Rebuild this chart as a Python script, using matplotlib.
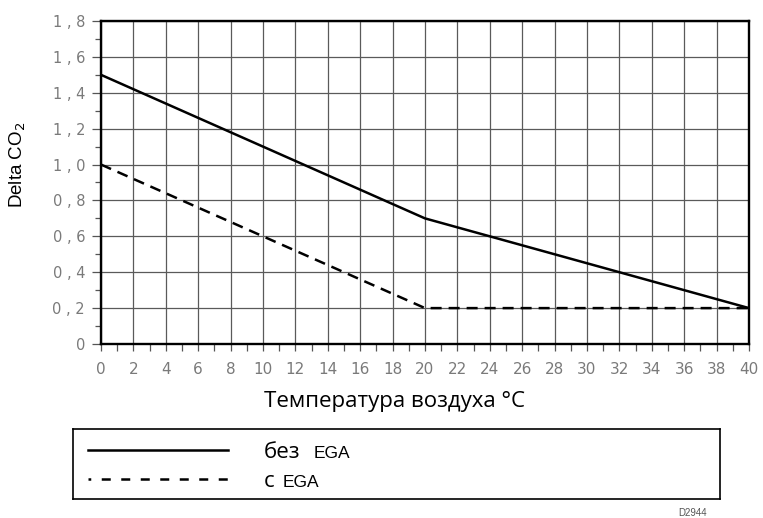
import matplotlib.pyplot as plt
from matplotlib.lines import Line2D
from matplotlib.ticker import MultipleLocator

# chart data
temp = [0, 20, 40]
without_ega = [1.5, 0.7, 0.2]
with_ega = [1.0, 0.2, 0.2]
x_ticks = list(range(0, 41, 2))
y_ticks = [0, 0.2, 0.4, 0.6, 0.8, 1.0, 1.2, 1.4, 1.6, 1.8]
y_labels = ["0", "0 , 2", "0 , 4", "0 , 6", "0 , 8", "1 , 0", "1 , 2", "1 , 4", "1 , 6", "1 , 8"]
legend_labels = ["без", "с"]

fig = plt.figure(figsize=(7.63, 5.18), dpi=100)
ax = fig.add_axes([101/763, 1-344/518, 648/763, 323/518])

ax.plot(temp, without_ega, color="black", lw=1.8, solid_capstyle="butt")
ax.plot(temp, with_ega, color="black", lw=1.8, linestyle=(0, (4.4, 2.8)))

ax.set_xlim(0, 40)
ax.set_ylim(0, 1.8)
ax.set_xticks(x_ticks)
ax.set_xticklabels([str(t) for t in x_ticks])
ax.set_yticks(y_ticks)
ax.set_yticklabels(y_labels)
ax.xaxis.set_minor_locator(MultipleLocator(1))
ax.yaxis.set_minor_locator(MultipleLocator(0.1))
ax.grid(True, which="major", color="#5a5a5a", lw=0.9)
ax.set_axisbelow(True)

for s in ax.spines.values():
    s.set_linewidth(1.7)
ax.tick_params(which="major", direction="out", length=6.5, width=0.9, color="#555555",
               labelcolor="#7a7a7a")
ax.tick_params(which="minor", direction="out", length=4.5, width=0.9, color="#555555")
ax.tick_params(axis="x", which="both", length=5, pad=8, labelsize=11)
ax.tick_params(axis="y", which="major", pad=5, labelsize=10.5)
for lab in ax.get_xticklabels() + ax.get_yticklabels():
    lab.set_family("DejaVu Sans")

fig.text(18/763, 1-165/518, "Delta CO$_2$", rotation=90, ha="center", va="center",
         fontsize=13.5, family="Liberation Sans")
fig.text(395/763, 1-401/518, "Температура воздуха °C", ha="center", va="center",
         fontsize=16, family="Open Sans")

# legend box
lax = fig.add_axes([73/763, 1-499/518, 647/763, 70/518])
lax.set_xticks([])
lax.set_yticks([])
for s in lax.spines.values():
    s.set_linewidth(1.2)
h1 = Line2D([], [], color="black", lw=1.8)
h2 = Line2D([], [], color="black", lw=1.8, linestyle=(2.5, (3.6, 4.2)))
leg = lax.legend([h1, h2], legend_labels, loc="center left", bbox_to_anchor=(15/647, 0.46),
                 frameon=False, borderpad=0, borderaxespad=0, handlelength=6.3,
                 handletextpad=1.6, labelspacing=0.37,
                 prop={"family": "Open Sans", "size": 16})

# small "EGA" after each legend word
fig.canvas.draw()
inv = fig.transFigure.inverted()
for txt, off in zip(leg.get_texts(), [14, 8]):
    bb = txt.get_window_extent()
    x, y = inv.transform((bb.x1 + off, (bb.y0 + bb.y1) / 2 - 1))
    fig.text(x, y, "EGA", ha="left", va="center", fontsize=12.5, family="Liberation Sans")

fig.text(693/763, 1-513/518, "D2944", ha="center", va="center", fontsize=7,
         color="#555555", family="Liberation Sans")

fig.savefig("out.png", dpi=100)
